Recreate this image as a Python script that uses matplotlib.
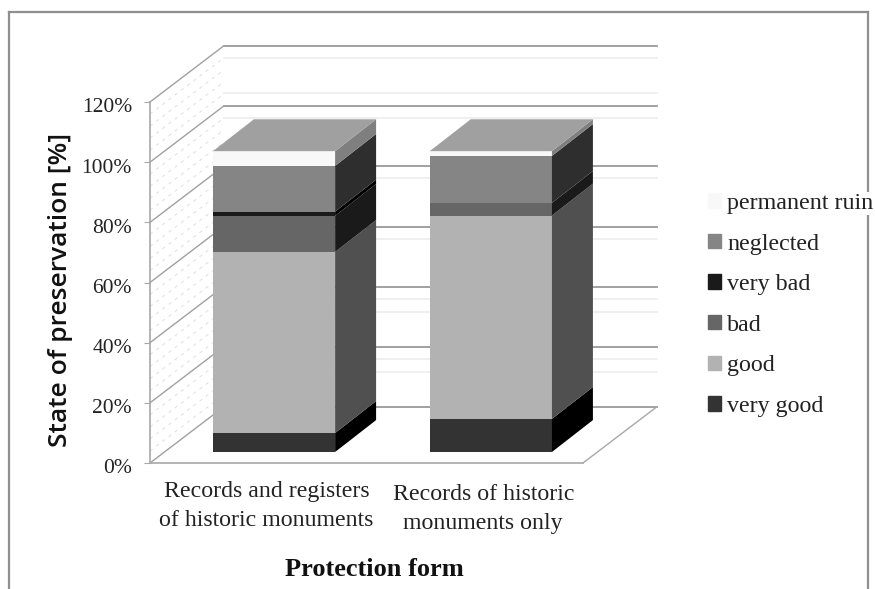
import numpy as np
import matplotlib
matplotlib.use('Agg')
import matplotlib.pyplot as plt
from matplotlib.lines import Line2D
from matplotlib.patches import Patch
from matplotlib.transforms import ScaledTranslation

categories = ['Records and registers\nof historic monuments', 'Records of historic\nmonuments only']
very_good = [6.3, 11.0]
good = [60.2, 67.6]
bad = [12.0, 4.2]
very_bad = [1.4, 0.0]
neglected = [15.2, 15.6]
permanent_ruin = [4.9, 1.6]

series_names = ['very good', 'good', 'bad', 'very bad', 'neglected', 'permanent ruin']
series_values = [very_good, good, bad, very_bad, neglected, permanent_ruin]
front_colors = ['#333333', '#b2b2b2', '#666666', '#1a1a1a', '#858585', '#f8f8f8']
side_colors = ['#000000', '#505050', '#1a1a1a', '#000000', '#2e2e2e', '#7f7f7f']
top_color = '#a0a0a0'

y_ticks = [0, 20, 40, 60, 80, 100, 120]
light_levels = [116, 104.3, 96, 76, 56, 36, 31.7, 16, 11.7]
wall_dashes = [4, 8, 12, 16]

# oblique depth of the floor and of the bars, in data units
floor_dx, floor_dy = 0.339, 18.6
bar_dx, bar_dy = 0.189, 10.6
bar_lift = 3.66
bar_shift = 0.065
bar_width = 0.5635
serif = 'Liberation Serif'

fig = plt.figure(figsize=(8.75, 5.89), dpi=100)
W, H = 875, 589
ax = fig.add_axes([150/W, 1-463/H, 433/W, 361/H])
ax.set_xlim(-0.507, 1.49)
ax.set_ylim(0, 120)
x0, x1 = ax.get_xlim()

# page frame, open at the bottom
for xs, ys in [([9, 9], [589, 12]), ([9, 868], [12, 12]), ([868, 868], [12, 589])]:
    fig.add_artist(Line2D(np.array(xs)/W, 1-np.array(ys)/H, color='#8f8f8f', lw=1.6, zorder=-1))

# back wall
for v in y_ticks:
    ax.plot([x0+floor_dx, x1+floor_dx], [v+floor_dy, v+floor_dy], color='#9a9a9a', lw=1.3,
            clip_on=False, zorder=1)
for v in light_levels:
    ax.plot([x0+floor_dx, x1+floor_dx], [v+floor_dy, v+floor_dy], color='#eeeeee', lw=1.3,
            clip_on=False, zorder=1)

# side wall
for v in y_ticks:
    ax.plot([x0, x0+floor_dx], [v, v+floor_dy], color='#a0a0a0', lw=1, clip_on=False, zorder=1)
    if v < 120:
        for d in wall_dashes:
            ax.plot([x0, x0+floor_dx], [v+d, v+d+floor_dy], color='#e2e2e2', lw=0.8,
                    ls=(0, (3, 4)), clip_on=False, zorder=1)

# floor
ax.plot([x1, x1+floor_dx], [0, floor_dy], color='#a8a8a8', lw=1, clip_on=False, zorder=1)

# bars, stacked from the bottom
x = np.arange(len(categories))
xb = x+bar_shift
bottom = np.zeros(len(categories))
for vals, fc, sc in zip(series_values, front_colors, side_colors):
    vals = np.array(vals)
    ax.bar(xb, vals, bar_width, bottom=bottom+bar_lift, color=fc, lw=0, zorder=3, clip_on=False)
    for i in x:
        if vals[i] == 0:
            continue
        r = xb[i]+bar_width/2
        y0 = bottom[i]+bar_lift
        y1 = y0+vals[i]
        ax.fill([r, r+bar_dx, r+bar_dx, r], [y0, y0+bar_dy, y1+bar_dy, y1], color=sc, lw=0,
                zorder=3, clip_on=False)
    bottom = bottom+vals
for i in x:
    l = xb[i]-bar_width/2
    r = xb[i]+bar_width/2
    t = bottom[i]+bar_lift
    ax.fill([l, r, r+bar_dx, l+bar_dx], [t, t, t+bar_dy, t+bar_dy], color=top_color, lw=0,
            zorder=3, clip_on=False)

for s in ['top', 'right']:
    ax.spines[s].set_visible(False)
for s in ['left', 'bottom']:
    ax.spines[s].set_color('#a8a8a8')
    ax.spines[s].set_linewidth(1.2)

ax.set_yticks(y_ticks)
ax.set_yticklabels(['{}%'.format(v) for v in y_ticks], fontfamily=serif, fontsize=15.5, color='#222222')
ax.tick_params(axis='y', length=4, color='#a8a8a8', pad=9)
for lab in ax.get_yticklabels():
    lab.set_transform(lab.get_transform()+ScaledTranslation(0, -2.5/72, fig.dpi_scale_trans))
ax.set_xticks(x+0.03)
ax.set_xticklabels(categories, fontfamily=serif, fontsize=17.2, color='#222222', linespacing=1.5)
ax.tick_params(axis='x', length=0, pad=13)
ax.xaxis.get_major_ticks()[1].set_pad(15)

fig.text(61/W, 1-290/H, 'State of preservation [%]', rotation=90, ha='center', va='center',
         family='Open Sans', fontweight='semibold', fontsize=19, color='#111111')
fig.text(374/W, 1-569/H, 'Protection form', ha='center', va='center', family=serif,
         fontweight='bold', fontsize=19, color='#111111')

handles = [Patch(color=c, label=n) for c, n in zip(front_colors, series_names)][::-1]
leg = ax.legend(handles=handles, loc='upper left', bbox_to_anchor=(708/W, 1-193/H),
                bbox_transform=fig.transFigure, frameon=False, borderpad=0, borderaxespad=0,
                labelspacing=0.815, handlelength=0.54, handleheight=0.54,
                handletextpad=0.27, prop={'family': serif, 'size': 17.3})
for t in leg.get_texts():
    t.set_color('#222222')
leg.get_texts()[0].set_bbox(dict(facecolor='white', edgecolor='none', pad=1))

fig.savefig('out.png', dpi=100)
